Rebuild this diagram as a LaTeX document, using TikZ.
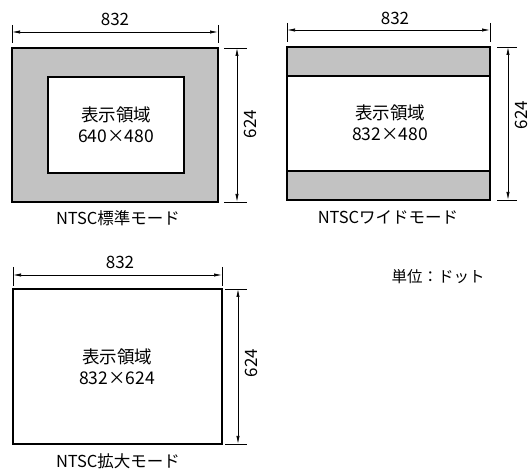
\documentclass[tikz,border=0pt]{standalone}
\usepackage{fontspec}
\setmainfont{Noto Sans CJK JP}
\usetikzlibrary{arrows.meta}
\definecolor{band}{HTML}{C2C2C2}
\tikzset{
  frame/.style={draw=black, line width=1.6pt},
  dimline/.style={draw=black, line width=0.7pt, {Latex[length=8pt,width=3.2pt]}-{Latex[length=8pt,width=3.2pt]}},
  extline/.style={draw=black, line width=0.6pt},
  txt/.style={font=\fontsize{17.5}{20.5}\selectfont, inner sep=0pt, align=center},
  lbl/.style={font=\fontsize{16.5}{19}\selectfont, inner sep=0pt},
  dimtxt/.style={font=\fontsize{17}{19}\selectfont, inner sep=0pt},
  unittxt/.style={font=\fontsize{15.5}{18}\selectfont, inner sep=0pt},
}
\begin{document}
\begin{tikzpicture}[x=1pt,y=-1pt]
\useasboundingbox (0,0) rectangle (528,470);
% ---------- Panel 1: NTSC standard ----------
\fill[band] (12,48) rectangle (218,202);
\fill[white] (48,77) rectangle (184,173);
\draw[frame] (12,48) rectangle (218,202);
\draw[frame] (48,77) rectangle (184,173);
\coordinate (a1) at (12,25); \coordinate (a1b) at (12,43);
\coordinate (a2) at (218,25); \coordinate (a2b) at (218,43);
\draw[extline] (a1) -- (a1b); \draw[extline] (a2) -- (a2b);
\coordinate (h1l) at (12,32); \coordinate (h1r) at (218,32);
\draw[dimline] (h1l) -- (h1r);
\node[dimtxt] (w1) at (115,19) {832};
\coordinate (e1t) at (224,48); \coordinate (e1tr) at (247,48);
\coordinate (e1b) at (224,202); \coordinate (e1br) at (247,202);
\draw[extline] (e1t) -- (e1tr); \draw[extline] (e1b) -- (e1br);
\coordinate (v1t) at (237,48); \coordinate (v1b) at (237,202);
\draw[dimline] (v1t) -- (v1b);
\node[dimtxt, rotate=90] (hgt1) at (250,124) {624};
\node[txt] (c1) at (116,125) {表示領域\\640×480};
\node[lbl] (l1) at (118,218) {NTSC標準モード};
% ---------- Panel 2: NTSC wide ----------
\fill[band] (287,47) rectangle (490,76);
\fill[band] (287,171) rectangle (490,200);
\draw[frame] (287,47) rectangle (490,200);
\draw[frame] (287,76) -- (490,76);
\draw[frame] (287,171) -- (490,171);
\coordinate (b1) at (287,23); \coordinate (b1b) at (287,42);
\coordinate (b2) at (490,23); \coordinate (b2b) at (490,42);
\draw[extline] (b1) -- (b1b); \draw[extline] (b2) -- (b2b);
\coordinate (h2l) at (287,30); \coordinate (h2r) at (490,30);
\draw[dimline] (h2l) -- (h2r);
\node[dimtxt] (w2) at (395,18) {832};
\coordinate (e2t) at (497,47); \coordinate (e2tr) at (517,47);
\coordinate (e2b) at (497,200); \coordinate (e2br) at (517,200);
\draw[extline] (e2t) -- (e2tr); \draw[extline] (e2b) -- (e2br);
\coordinate (v2t) at (508,47); \coordinate (v2b) at (508,200);
\draw[dimline] (v2t) -- (v2b);
\node[dimtxt, rotate=90] (hgt2) at (521,115) {624};
\node[txt] (c2) at (390,123) {表示領域\\832×480};
\node[lbl] (l2) at (388,217) {NTSCワイドモード};
% ---------- Panel 3: NTSC zoom ----------
\draw[frame] (13,289) rectangle (222,444);
\coordinate (d1) at (13,267); \coordinate (d1b) at (13,286);
\coordinate (d2) at (222,267); \coordinate (d2b) at (222,286);
\draw[extline] (d1) -- (d1b); \draw[extline] (d2) -- (d2b);
\coordinate (h3l) at (13,275); \coordinate (h3r) at (222,275);
\draw[dimline] (h3l) -- (h3r);
\node[dimtxt] (w3) at (120,262) {832};
\coordinate (e3t) at (225,289); \coordinate (e3tr) at (247,289);
\coordinate (e3b) at (225,444); \coordinate (e3br) at (247,444);
\draw[extline] (e3t) -- (e3tr); \draw[extline] (e3b) -- (e3br);
\coordinate (v3t) at (238,289); \coordinate (v3b) at (238,444);
\draw[dimline] (v3t) -- (v3b);
\node[dimtxt, rotate=90] (hgt3) at (251,363) {624};
\node[txt] (c3) at (117,367) {表示領域\\832×624};
\node[lbl] (l3) at (118,461) {NTSC拡大モード};
% ---------- unit ----------
\node[unittxt] (unit) at (438,277) {単位：ドット};
\end{tikzpicture}
\end{document}
